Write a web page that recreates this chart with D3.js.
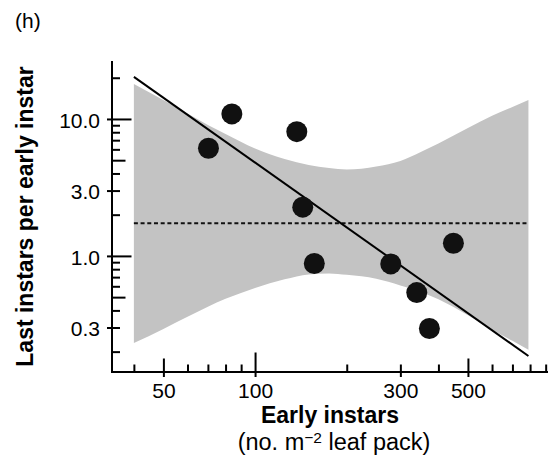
<!DOCTYPE html>
<html lang="en">
<head>
  <meta charset="UTF-8" />
  <title>Last instars per early instar</title>
  <script src="https://d3js.org/d3.v7.min.js"></script>
  <style>
    body { margin: 0; background: #fff; }
    svg { display: block; font-family: "Liberation Sans", Arial, sans-serif; }
    .axis path, .axis line { stroke: #000; stroke-width: 2; }
    .axis text { font-size: 21px; fill: #000; }
  </style>
</head>
<body>
  <svg id="chart" width="554" height="459"></svg>

  <script>
  // observed points
  const earlyInstars = [70.3, 83.9, 137.1, 143.4, 156.5, 279, 339.6, 373.6, 448];
  const lastPerEarly = [6.11, 10.88, 8.08, 2.27, 0.88, 0.874, 0.54, 0.295, 1.238];

  // grey envelope
  const bandX     = [40, 50, 60, 70, 80, 100, 125, 150, 175, 200, 250, 300, 350, 400, 500, 600, 700, 790];
  const bandUpper = [18.0, 13.76, 10.97, 9.04, 7.77, 6.09, 5.11, 4.62, 4.39, 4.28, 4.50, 4.94, 5.74, 6.63, 8.60, 10.54, 12.24, 13.76];
  const bandLower = [0.231, 0.293, 0.359, 0.426, 0.486, 0.584, 0.674, 0.733, 0.745, 0.727, 0.680, 0.609, 0.546, 0.482, 0.368, 0.288, 0.240, 0.206];

  // fitted line and null mean
  const fitX = [40, 790];
  const fitY = [20.3, 0.186];
  const nullMean = 1.73;

  // ticks
  const xMinor = [40, 60, 70, 80, 90, 200, 300, 400, 600, 700, 800, 900];
  const xMid = [50, 500];
  const xMajor = [100];
  const xLabels = [50, 100, 300, 500];
  const yMinor = [0.2, 0.3, 0.4, 0.6, 0.7, 0.8, 0.9, 2, 3, 4, 6, 7, 8, 9, 20];
  const yMid = [0.5, 5];
  const yMajor = [1, 10];
  const yLabels = [0.3, 1, 3, 10];

  const svg = d3.select("#chart"),
        margin = { top: 61, left: 112 },
        width = 436, height = 311,
        g = svg.append("g").attr("transform", `translate(${margin.left},${margin.top})`);

  const x = d3.scaleLog().domain([33.9, 916]).range([0, width]);
  const y = d3.scaleLog().domain([0.142, 26.5]).range([height, 0]);

  // envelope
  const band = bandX.map((d, i) => ({ x: d, lo: bandLower[i], hi: bandUpper[i] }));
  g.append("path")
    .datum(band)
    .attr("fill", "#c3c3c3")
    .attr("d", d3.area()
      .curve(d3.curveMonotoneX)
      .x(d => x(d.x)).y0(d => y(d.lo)).y1(d => y(d.hi)));

  // null mean (dashed)
  g.append("line")
    .attr("x1", x(fitX[0])).attr("x2", x(fitX[1]))
    .attr("y1", y(nullMean)).attr("y2", y(nullMean))
    .attr("stroke", "#111").attr("stroke-width", 2)
    .attr("stroke-dasharray", "4,2.7");

  // regression line
  g.append("path")
    .datum(fitX.map((d, i) => [d, fitY[i]]))
    .attr("fill", "none").attr("stroke", "#000").attr("stroke-width", 2)
    .attr("d", d3.line().x(d => x(d[0])).y(d => y(d[1])));

  // points
  g.selectAll(".pt")
    .data(earlyInstars.map((d, i) => [d, lastPerEarly[i]]))
    .join("circle")
    .attr("class", "pt")
    .attr("cx", d => x(d[0])).attr("cy", d => y(d[1]))
    .attr("r", 10.5).attr("fill", "#111");

  // axes: several layers for the tick lengths
  function xAxisLayer(vals, size, withLabels) {
    const a = d3.axisBottom(x).tickValues(vals).tickSize(size).tickSizeOuter(0).tickPadding(6);
    a.tickFormat(withLabels ? d3.format("d") : "");
    const ax = g.append("g").attr("class", "axis").attr("transform", `translate(0,${height})`).call(a);
    ax.select(".domain").remove();
    return ax;
  }
  function yAxisLayer(vals, size, withLabels) {
    const a = d3.axisLeft(y).tickValues(vals).tickSize(size).tickSizeOuter(0).tickPadding(7);
    a.tickFormat(withLabels ? d3.format(".1f") : "");
    const ax = g.append("g").attr("class", "axis").call(a);
    ax.select(".domain").remove();
    return ax;
  }

  xAxisLayer(xMinor, -7.5, false);
  xAxisLayer(xMid, -13.5, false);
  xAxisLayer(xMajor, -19.5, false);
  xAxisLayer(xLabels, 5, true);

  yAxisLayer(yMinor, -8, false);
  yAxisLayer(yMid, -13.5, false);
  yAxisLayer(yMajor, -19.5, false);
  yAxisLayer(yLabels, 5, true).selectAll("text").attr("dy", "0.4em");

  // axis lines
  g.append("path")
    .attr("fill", "none").attr("stroke", "#000").attr("stroke-width", 2)
    .attr("d", `M0,0V${height}H${width}`);

  // titles
  svg.append("text")
    .attr("x", 15).attr("y", 28)
    .style("font-size", "21px")
    .text("(h)");

  svg.append("text")
    .attr("transform", `translate(33,${margin.top + height / 2}) rotate(-90)`)
    .attr("text-anchor", "middle")
    .style("font-size", "23px").style("font-weight", "bold")
    .text("Last instars per early instar");

  svg.append("text")
    .attr("x", margin.left + width / 2).attr("y", 423)
    .attr("text-anchor", "middle")
    .style("font-size", "23px").style("font-weight", "bold")
    .text("Early instars");

  const sub = svg.append("text")
    .attr("x", margin.left + width / 2 + 4).attr("y", 450)
    .attr("text-anchor", "middle")
    .style("font-size", "23.5px");
  sub.append("tspan").text("(no. m");
  sub.append("tspan").attr("dy", -7.5).style("font-size", "15.5px").text("\u22122");
  sub.append("tspan").attr("dy", 7.5).text(" leaf pack)");
  </script>
</body>
</html>
